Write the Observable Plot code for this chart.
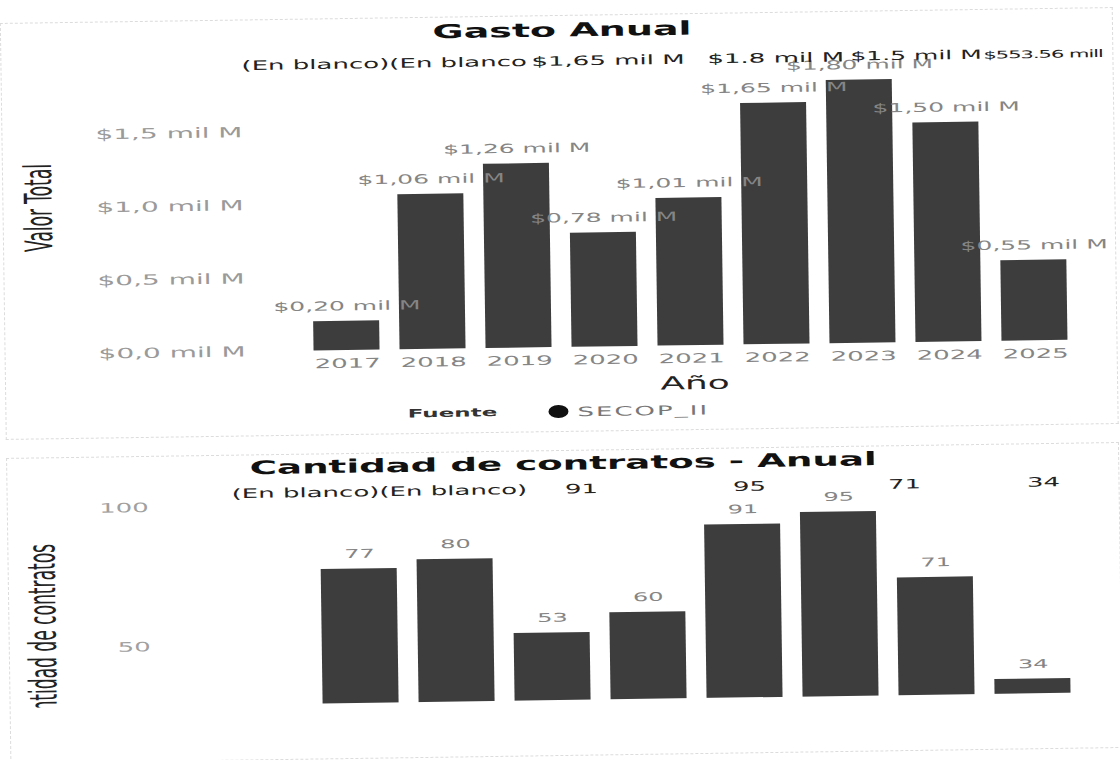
<!DOCTYPE html>
<html><head><meta charset="utf-8">
<script src="https://cdn.jsdelivr.net/npm/d3@7"></script>
<script src="https://cdn.jsdelivr.net/npm/@observablehq/plot@0.6"></script>
<style>
html,body{margin:0;padding:0;background:#fff;width:1120px;height:760px;overflow:hidden;}
#page{position:relative;width:1120px;height:760px;transform:rotate(-0.82deg);transform-origin:560px 380px;}
#s{position:absolute;left:0;top:0;width:560px;height:760px;transform:scaleX(2);transform-origin:0 0;font-family:"DejaVu Sans",sans-serif;}
.frame{position:absolute;border:1px dashed #dcdcdc;}
.t{position:absolute;white-space:nowrap;transform:translate(-50%,-50%);line-height:1;}
.tl{position:absolute;white-space:nowrap;transform:translateY(-50%);line-height:1;}
</style></head><body>
<div id="page">
  <div class="frame" style="left:5px;top:15px;width:1111px;height:415px"></div>
  <div class="frame" style="left:5px;top:450px;width:1111px;height:304px"></div>
  <div id="s"></div>
</div>
<script>
// ---------- data ----------
const years = ["2017","2018","2019","2020","2021","2022","2023","2024","2025"];
const gastoValues = [0.20, 1.06, 1.26, 0.78, 1.01, 1.65, 1.80, 1.50, 0.55];
const gastoTicks = [0, 0.5, 1.0, 1.5];
const contratosYears = ["2018","2019","2020","2021","2022","2023","2024","2025"];
const contratosValues = [77, 80, 53, 60, 91, 95, 71, 34];
const contratosTicks = [50, 100];
const gastoTitle = "Gasto Anual";
const contratosTitle = "Cantidad de contratos - Anual";
const gastoHeader = ["(En blanco)(En blanco", "$1,65 mil M", "$1.8 mil M", "$1.5 mil M", "$553.56 mill"];
const contratosHeader = ["(En blanco)(En blanco)", "91", "95", "71", "34"];
const legendTitle = "Fuente";
const legendItems = ["SECOP_II"];
const xTitle = "Año";
const yTitleTop = "Valor Total";
const yTitleBottom = "Cantidad de contratos";

// ---------- layout (page px, before the 2x horizontal stretch) ----------
const SX = 2;
const L = {
  gastoHeaderX: [246, 536, 712, 855, 988],
  gastoHeaderY: 61,
  contratosHeaderX: [230, 580, 748, 903, 1042],
  contratosHeaderY: 488.5
};
const s = document.getElementById("s");
function place(text, x, y, css, left) {
  const d = document.createElement("div");
  d.className = left ? "tl" : "t";
  d.textContent = text;
  d.style.left = (x / SX) + "px";
  d.style.top = y + "px";
  Object.assign(d.style, css || {});
  s.appendChild(d);
  return d;
}

const fmtVal = v => "$" + v.toFixed(2).replace(".", ",") + " mil M";
const fmtTick = v => "$" + v.toFixed(1).replace(".", ",") + " mil M";
const narrow = "'Liberation Sans Narrow','DejaVu Sans Condensed',sans-serif";

// ---------- top chart ----------
const topData = years.map((y, i) => ({year: y, value: gastoValues[i]}));
const topPlot = Plot.plot({
  width: 560, height: 332,
  marginLeft: 146, marginRight: 14, marginTop: 13, marginBottom: 25,
  style: {fontFamily: "DejaVu Sans", background: "transparent", overflow: "visible"},
  x: {domain: years, padding: 0.23},
  y: {domain: [0, 2.01]},
  marks: [
    Plot.barY(topData, {x: "year", y: "value", fill: "#3d3d3d"}),
    Plot.text(topData, {x: "year", y: "value", text: d => fmtVal(d.value), dy: -15, fill: "#858585", fontSize: 12.5}),
    Plot.axisX({tickSize: 0, tickPadding: 8, fontSize: 13, color: "#858585", label: null}),
    Plot.axisY({ticks: gastoTicks, tickFormat: fmtTick, tickSize: 0, tickPadding: 23.5, fontSize: 14, color: "#9a9a9a", label: null}),
    Plot.text([yTitleTop], {text: d => d, frameAnchor: "left", textAnchor: "middle", rotate: -90, dx: -125.5, fontSize: 19, fontFamily: narrow, fill: "#222"})
  ]
});
const topWrap = document.createElement("div");
Object.assign(topWrap.style, {position: "absolute", left: "0px", top: "40px", width: "560px", height: "332px"});
topWrap.appendChild(topPlot);
s.appendChild(topWrap);

// ---------- bottom chart ----------
const botData = contratosYears.map((y, i) => ({year: y, value: contratosValues[i]}));
const botPlot = Plot.plot({
  width: 560, height: 312,
  marginLeft: 146, marginRight: 14, marginTop: 4, marginBottom: 10,
  style: {fontFamily: "DejaVu Sans", background: "transparent", overflow: "visible"},
  x: {domain: contratosYears, padding: 0.21, axis: null},
  y: {domain: [0, 107]},
  marks: [
    Plot.barY(botData, {x: "year", y: "value", fill: "#3d3d3d"}),
    Plot.text(botData, {x: "year", y: "value", text: d => String(d.value), dy: -15, fill: "#858585", fontSize: 12}),
    Plot.axisY({ticks: contratosTicks, tickSize: 0, tickPadding: 73, fontSize: 13, color: "#a0a0a0", label: null}),
    Plot.text([yTitleBottom], {text: d => d, frameAnchor: "left", textAnchor: "middle", rotate: -90, dx: -126.5, fontSize: 19, fontFamily: narrow, fill: "#222"})
  ]
});
const botClip = document.createElement("div");
Object.assign(botClip.style, {position: "absolute", left: "0px", top: "440px", width: "560px", height: "260px", overflow: "hidden"});
const botInner = document.createElement("div");
Object.assign(botInner.style, {position: "absolute", left: "0px", top: "38px", width: "560px", height: "312px"});
botInner.appendChild(botPlot);
botClip.appendChild(botInner);
s.appendChild(botClip);

// ---------- titles, headers, legend ----------
place(gastoTitle, 567, 29.5, {fontSize: "19px", fontWeight: "bold", color: "#111"});
const headerStyles = [
  {fontSize: "13px", color: "#222"},
  {fontSize: "13px", color: "#222"},
  {fontSize: "13px", color: "#222"},
  {fontSize: "12.5px", color: "#222"},
  {fontSize: "10.5px", letterSpacing: "-0.5px", color: "#222"}
];
gastoHeader.forEach((t, i) => place(t, L.gastoHeaderX[i], L.gastoHeaderY, headerStyles[i], true));
place(xTitle, 695, 385, {fontSize: "18px", color: "#222"});
place(legendTitle, 452, 411.5, {fontSize: "11.5px", fontWeight: "bold", color: "#333"});
const dot = document.createElement("div");
Object.assign(dot.style, {position: "absolute", left: (557 / SX - 5) + "px", top: (411.5 - 6.5) + "px", width: "10px", height: "13px", borderRadius: "50%", background: "#111"});
s.appendChild(dot);
legendItems.forEach(t => place(t, 577, 411.5, {fontSize: "13px", letterSpacing: "1px", color: "#777"}, true));

place(contratosTitle, 562, 464, {fontSize: "18.6px", fontWeight: "bold", color: "#111"});
contratosHeader.forEach((t, i) => place(t, L.contratosHeaderX[i], L.contratosHeaderY, {fontSize: "13px", color: "#222"}, i === 0));
</script>
</body></html>
